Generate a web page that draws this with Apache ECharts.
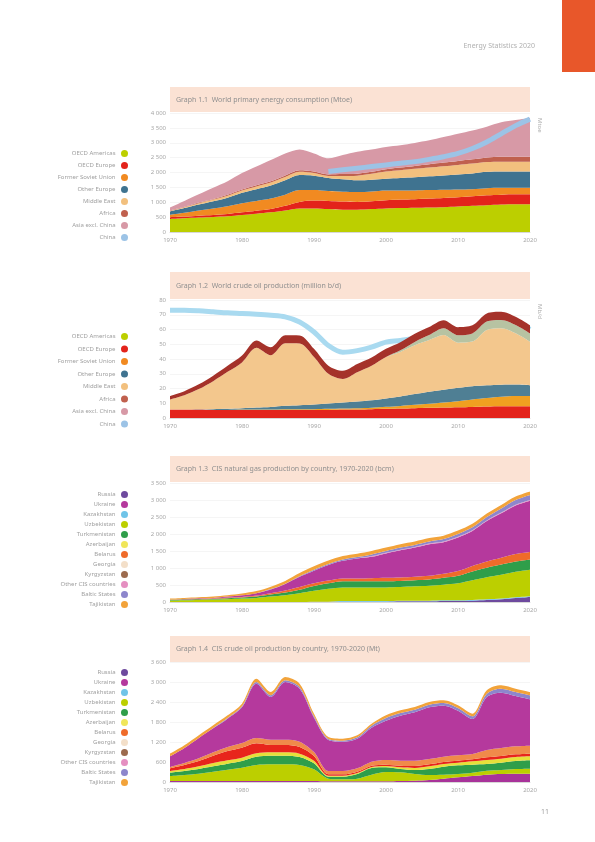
<!DOCTYPE html>
<html>
<head>
<meta charset="utf-8">
<script src="https://cdn.jsdelivr.net/npm/echarts@6/dist/echarts.min.js"></script>
<style>
  html, body { margin: 0; padding: 0; background: #fff; }
  #page { width: 595px; height: 842px; }
</style>
</head>
<body>
<div id="page"></div>
<script>
// x categories, every two years
const years = ['1970','1972','1974','1976','1978','1980','1982','1984','1986','1988','1990','1992','1994',
  '1996','1998','2000','2002','2004','2006','2008','2010','2012','2014','2016','2018','2020'];

const regionNames = ['OECD Americas', 'OECD Europe', 'Former Soviet Union', 'Other Europe',
  'Middle East', 'Africa', 'Asia excl. China', 'China'];
const countryNames = ['Russia', 'Ukraine', 'Kazakhstan', 'Uzbekistan', 'Turkmenistan', 'Azerbaijan',
  'Belarus', 'Georgia', 'Kyrgyzstan', 'Other CIS countries', 'Baltic States', 'Tajikistan'];

// Graph 1.1 (Mtoe)
const c1OecdAmericas = [440,462,484,506,528,572,616,660,726,792,792,770,748,748,770,792,803,814,825,836,858,880,902,924,935,935];
const c1OecdEurope = [55,55,66,66,77,88,99,110,154,220,264,275,275,264,264,275,286,286,297,308,308,319,330,330,330,330];
const c1FormerSoviet = [88,132,176,220,264,308,330,352,374,396,352,330,330,330,330,330,308,297,286,275,264,242,242,231,220,220];
const c1OtherEurope = [110,154,198,242,286,352,396,440,484,506,484,440,418,396,396,396,418,440,462,484,506,528,550,550,550,550];
const c1MiddleEast = [22,33,44,55,66,77,88,99,110,110,88,66,110,154,198,242,264,286,297,308,319,330,330,330,330,330];
const c1Africa = [11,11,22,22,33,33,44,44,55,55,55,55,66,66,66,77,88,99,110,121,132,143,154,165,165,165];
const c1AsiaExChina = [99,198,275,374,451,550,627,715,737,693,605,539,638,737,748,748,748,770,803,858,913,968,1034,1155,1232,1298];
const c1China = [null,null,null,null,null,null,null,null,null,null,null,2035,2090,2145,2200,2255,2310,2365,2442,2530,2640,2805,3025,3300,3575,3795];

// Graph 1.2 (million b/d)
const c2OecdEurope = [5.7,5.7,5.7,5.5,5.5,5.5,5.5,5.5,5.5,5.5,5.5,5.5,5.7,5.7,5.9,6.2,6.4,6.6,6.9,7.1,7.3,7.5,7.8,8.0,8.0,8.0];
const c2FormerSoviet = [0,0,0,0,0,0.2,0.2,0.2,0.5,0.5,0.5,0.7,0.7,0.9,1.1,1.4,1.8,2.3,2.7,3.4,4.1,5.0,5.7,6.4,6.9,6.9];
const c2OtherEurope = [0,0,0.2,0.5,0.7,0.9,1.4,1.8,2.3,2.7,3.2,3.7,4.1,4.6,5.0,5.7,6.4,7.3,8.2,8.7,9.1,9.1,8.7,8.2,7.8,7.3];
const c2MiddleEast = [6.9,9.8,13.7,19.0,25.1,31.1,40.5,35.0,42.3,41.8,32.2,20.1,16.0,19.9,23.5,28.1,30.2,33.1,35.0,37.0,30.6,30.2,37.5,38.2,34.7,29.5];
const c2OecdAmericas = [0,0,0,0,0,0,0,0,0,0,0,0,0,0,0,0,1.1,2.3,3.4,4.6,5.0,5.5,5.7,5.7,5.7,5.7];
const c2Africa = [2.3,2.7,3.2,3.7,4.1,4.6,5.0,5.5,5.5,5.5,5.5,5.5,5.5,5.5,5.5,5.5,5.5,5.5,5.5,5.5,5.5,5.5,5.5,5.5,5.5,5.5];
const c2AsiaExChina = [0,0,0,0,0,0,0,0,0,0,0,0,0,0,0,0,0,0,0,0,0,0,0,0,0,0];
const c2China = [73.1,73.1,72.7,72.0,71.3,70.9,70.4,69.7,68.6,65.1,58.3,49.1,44.6,45.7,48.0,51.4,52.6,54.4,59.0,63.5,59.0,60.1,68.1,69.3,65.8,60.1];

// Graph 1.3 (bcm)
const c3Russia = [0,0,0,0,0,0,0,0,0,0,10,10,10,10,10,10,20,20,20,30,30,40,60,80,120,150];
const c3Kazakhstan = [0,0,0,0,0,0,0,0,0,0,0,0,20,20,20,20,20,20,20,20,20,20,20,20,20,20];
const c3Uzbekistan = [40,50,60,70,80,100,120,160,200,260,320,380,400,400,400,400,400,420,440,460,500,580,650,700,750,780];
const c3Turkmenistan = [20,20,20,20,30,30,40,60,80,100,140,160,180,180,180,180,180,180,180,200,220,260,280,300,300,300];
const c3Azerbaijan = [0,0,0,0,0,0,0,0,0,0,0,0,0,0,0,0,0,0,0,0,0,0,0,0,0,0];
const c3Belarus = [10,10,10,10,20,20,30,40,60,80,80,80,80,80,90,100,100,100,110,120,140,160,180,200,220,220];
const c3Kyrgyzstan = [0,0,0,0,0,0,0,0,0,0,0,0,0,0,0,0,0,0,0,0,0,0,0,0,0,0];
const c3Ukraine = [0,10,20,20,30,50,70,110,190,300,370,460,520,590,630,720,800,860,930,930,990,1030,1190,1310,1430,1510];
const c3OtherCis = [0,0,0,0,0,0,0,0,0,0,0,0,0,0,20,20,20,20,20,20,20,20,20,20,20,20];
const c3Baltic = [0,0,0,0,0,0,0,10,10,20,30,30,40,40,50,50,60,60,60,70,80,90,100,120,140,150];
const c3Georgia = [0,0,0,0,0,0,0,0,0,0,0,0,0,0,0,0,0,0,0,0,0,0,0,0,0,0];
const c3Tajikistan = [30,30,30,40,40,50,60,70,80,90,100,100,100,100,100,100,100,100,100,100,100,100,100,100,100,100];

// Graph 1.4 (Mt)
const c4Russia = [30,30,30,30,30,30,30,30,30,30,30,20,20,20,20,20,30,40,60,100,140,180,220,240,250,250];
const c4Uzbekistan = [150,180,220,280,340,400,480,500,500,480,350,80,60,80,200,280,260,200,150,120,100,100,120,120,140,150];
const c4Turkmenistan = [100,120,140,160,180,200,250,260,260,240,180,60,80,140,200,140,100,120,180,240,260,240,200,220,240,250];
const c4Azerbaijan = [50,60,80,100,100,100,100,100,100,100,80,30,30,30,30,40,50,60,80,80,80,100,120,120,120,120];
const c4Belarus = [80,120,160,220,280,300,300,220,220,200,140,40,40,40,40,40,50,60,60,60,60,60,80,80,80,80];
const c4Georgia = [40,60,80,100,120,140,160,160,160,160,120,100,100,100,120,140,150,160,160,160,160,160,220,240,240,240];
const c4Ukraine = [320,450,610,720,850,1070,1630,1280,1730,1590,1030,930,880,890,1020,1180,1350,1450,1550,1530,1340,1050,1590,1660,1510,1390];
const c4Baltic = [0,0,0,10,20,30,50,50,50,50,40,30,30,40,60,80,80,80,80,80,80,80,100,120,120,120];
const c4Tajikistan = [80,80,80,80,80,80,100,100,100,100,80,60,60,60,60,80,80,80,80,80,80,80,100,100,100,100];
const c4Kazakhstan = [0,0,0,0,0,0,0,0,0,0,0,0,0,0,0,0,0,0,0,0,0,0,0,0,0,0];
const c4Kyrgyzstan = [0,0,0,0,0,0,0,0,0,0,0,0,0,0,0,0,0,0,0,0,0,0,0,0,0,0];
const c4OtherCis = [0,0,0,0,0,0,0,0,0,0,0,0,0,0,0,0,0,0,0,0,0,0,0,0,0,0];

const titles = [
  'Graph 1.1  World primary energy consumption (Mtoe)',
  'Graph 1.2  World crude oil production (million b/d)',
  'Graph 1.3  CIS natural gas production by country, 1970-2020 (bcm)',
  'Graph 1.4  CIS crude oil production by country, 1970-2020 (Mt)'
];

// panel layout: [title bar top, title bar height, plot top, plot height]
const panels = [
  [87, 25, 113, 119],
  [272, 27, 300, 118],
  [456, 26, 483, 119],
  [636, 26, 662, 120]
];
const yMax = [4000, 80, 3500, 3600];
const yStep = [500, 10, 500, 600];

const chart = echarts.init(document.getElementById('page'), null, { renderer: 'canvas' });

const spaced = v => String(v).replace(/\B(?=(\d{3})+(?!\d))/g, ' ');

function area(name, data, color, idx) {
  return {
    name, type: 'line', data, xAxisIndex: idx, yAxisIndex: idx, stack: 'stack' + idx,
    symbol: 'none', smooth: 0.3, lineStyle: { width: 0 },
    areaStyle: { color, opacity: 1 }, itemStyle: { color }, emphasis: { disabled: true }
  };
}
function line(name, data, color, idx, z) {
  return {
    name, type: 'line', data, xAxisIndex: idx, yAxisIndex: idx, z,
    symbol: 'none', smooth: 0.3, connectNulls: false,
    lineStyle: { width: 5, color }, itemStyle: { color }, emphasis: { disabled: true }
  };
}

const series = [
  // graph 3 first so the shared country legend takes its colours
  area('Russia', c3Russia, '#6e4a9e', 2),
  area('Kazakhstan', c3Kazakhstan, '#6fc4e8', 2),
  area('Uzbekistan', c3Uzbekistan, '#bccf00', 2),
  area('Turkmenistan', c3Turkmenistan, '#2f9e4a', 2),
  area('Azerbaijan', c3Azerbaijan, '#f0e65a', 2),
  area('Belarus', c3Belarus, '#ef6b2a', 2),
  area('Kyrgyzstan', c3Kyrgyzstan, '#9c6b4e', 2),
  area('Ukraine', c3Ukraine, '#b5399d', 2),
  area('Other CIS countries', c3OtherCis, '#e58fc1', 2),
  area('Baltic States', c3Baltic, '#8d86cc', 2),
  area('Georgia', c3Georgia, '#f3dfc9', 2),
  area('Tajikistan', c3Tajikistan, '#f2a33a', 2),

  area('OECD Americas', c1OecdAmericas, '#bccf00', 0),
  area('OECD Europe', c1OecdEurope, '#e3231b', 0),
  area('Former Soviet Union', c1FormerSoviet, '#f18a21', 0),
  area('Other Europe', c1OtherEurope, '#3f7390', 0),
  area('Middle East', c1MiddleEast, '#f2c07e', 0),
  area('Africa', c1Africa, '#c0604e', 0),
  area('Asia excl. China', c1AsiaExChina, '#d799a6', 0),
  line('China', c1China, '#9cc3e6', 0, 3),

  area('OECD Europe', c2OecdEurope, '#e3231b', 1),
  area('Former Soviet Union', c2FormerSoviet, '#f0a020', 1),
  area('Other Europe', c2OtherEurope, '#4f7f94', 1),
  area('Middle East', c2MiddleEast, '#f3c78d', 1),
  area('OECD Americas', c2OecdAmericas, '#b7c3a2', 1),
  area('Africa', c2Africa, '#a5322a', 1),
  area('Asia excl. China', c2AsiaExChina, '#d799a6', 1),
  line('China', c2China, '#a9daf0', 1, 1),

  area('Russia', c4Russia, '#a8339a', 3),
  area('Uzbekistan', c4Uzbekistan, '#bccf00', 3),
  area('Turkmenistan', c4Turkmenistan, '#2f9e4a', 3),
  area('Azerbaijan', c4Azerbaijan, '#e6e03a', 3),
  area('Belarus', c4Belarus, '#e8251c', 3),
  area('Georgia', c4Georgia, '#f08a4a', 3),
  area('Ukraine', c4Ukraine, '#b5399d', 3),
  area('Baltic States', c4Baltic, '#8d86cc', 3),
  area('Tajikistan', c4Tajikistan, '#f2a33a', 3),
  area('Kazakhstan', c4Kazakhstan, '#6fc4e8', 3),
  area('Kyrgyzstan', c4Kyrgyzstan, '#9c6b4e', 3),
  area('Other CIS countries', c4OtherCis, '#e58fc1', 3)
];

const legendBase = {
  orient: 'vertical', right: 462, align: 'right', icon: 'circle',
  itemWidth: 8, itemHeight: 7, selectedMode: false,
  textStyle: { fontSize: 6, color: '#a0a0a0', fontFamily: 'Noto Sans' }
};

const graphic = [
  { type: 'rect', shape: { x: 562, y: 0, width: 33, height: 72 }, style: { fill: '#e8572a' } },
  { type: 'text', x: 535, y: 46, style: { text: 'Energy Statistics 2020', fill: '#b0b0b0', fontSize: 7,
    fontFamily: 'Noto Sans', align: 'right', verticalAlign: 'middle' } },
  { type: 'text', x: 545, y: 812, style: { text: '11', fill: '#a0a0a0', fontSize: 7,
    fontFamily: 'Noto Sans', align: 'center', verticalAlign: 'middle' } }
];
panels.forEach((p, i) => {
  graphic.push({ type: 'rect', shape: { x: 170, y: p[0], width: 360, height: p[1] }, style: { fill: '#fbe2d4' } });
  graphic.push({ type: 'text', x: 176, y: p[0] + p[1] / 2, style: { text: titles[i], fill: '#8f8f8f', fontSize: 7,
    fontFamily: 'Noto Sans', verticalAlign: 'middle' } });
});
[[118, 'Mtoe'], [304, 'Mb/d']].forEach(([y, t]) => {
  graphic.push({ type: 'text', x: 540, y, rotation: -Math.PI / 2, style: { text: t, fill: '#b0b0b0',
    fontSize: 6, fontFamily: 'Noto Sans', verticalAlign: 'middle' } });
});

chart.setOption({
  animation: false,
  textStyle: { fontFamily: 'Noto Sans' },
  graphic,
  grid: panels.map(p => ({ left: 170, right: 65, top: p[2], height: p[3] })),
  xAxis: panels.map((p, i) => ({
    type: 'category', gridIndex: i, data: years, boundaryGap: false,
    axisLine: { lineStyle: { color: '#d8d8d8' } }, axisTick: { show: false },
    axisLabel: { interval: 4, fontSize: 6, color: '#a8a8a8', margin: 5 }
  })),
  yAxis: panels.map((p, i) => ({
    type: 'value', gridIndex: i, min: 0, max: yMax[i], interval: yStep[i],
    axisLine: { show: false }, axisTick: { show: false },
    splitLine: { lineStyle: { color: '#eeeeee', width: 0.6 } },
    axisLabel: { fontSize: 6, color: '#a8a8a8', margin: 4, formatter: spaced }
  })),
  legend: [
    Object.assign({}, legendBase, { top: 145, itemGap: 5, data: regionNames }),
    Object.assign({}, legendBase, { top: 328, itemGap: 5.5, data: regionNames }),
    Object.assign({}, legendBase, { top: 486, itemGap: 3, data: countryNames }),
    Object.assign({}, legendBase, { top: 664, itemGap: 3, data: countryNames })
  ],
  series
});
</script>
</body>
</html>
